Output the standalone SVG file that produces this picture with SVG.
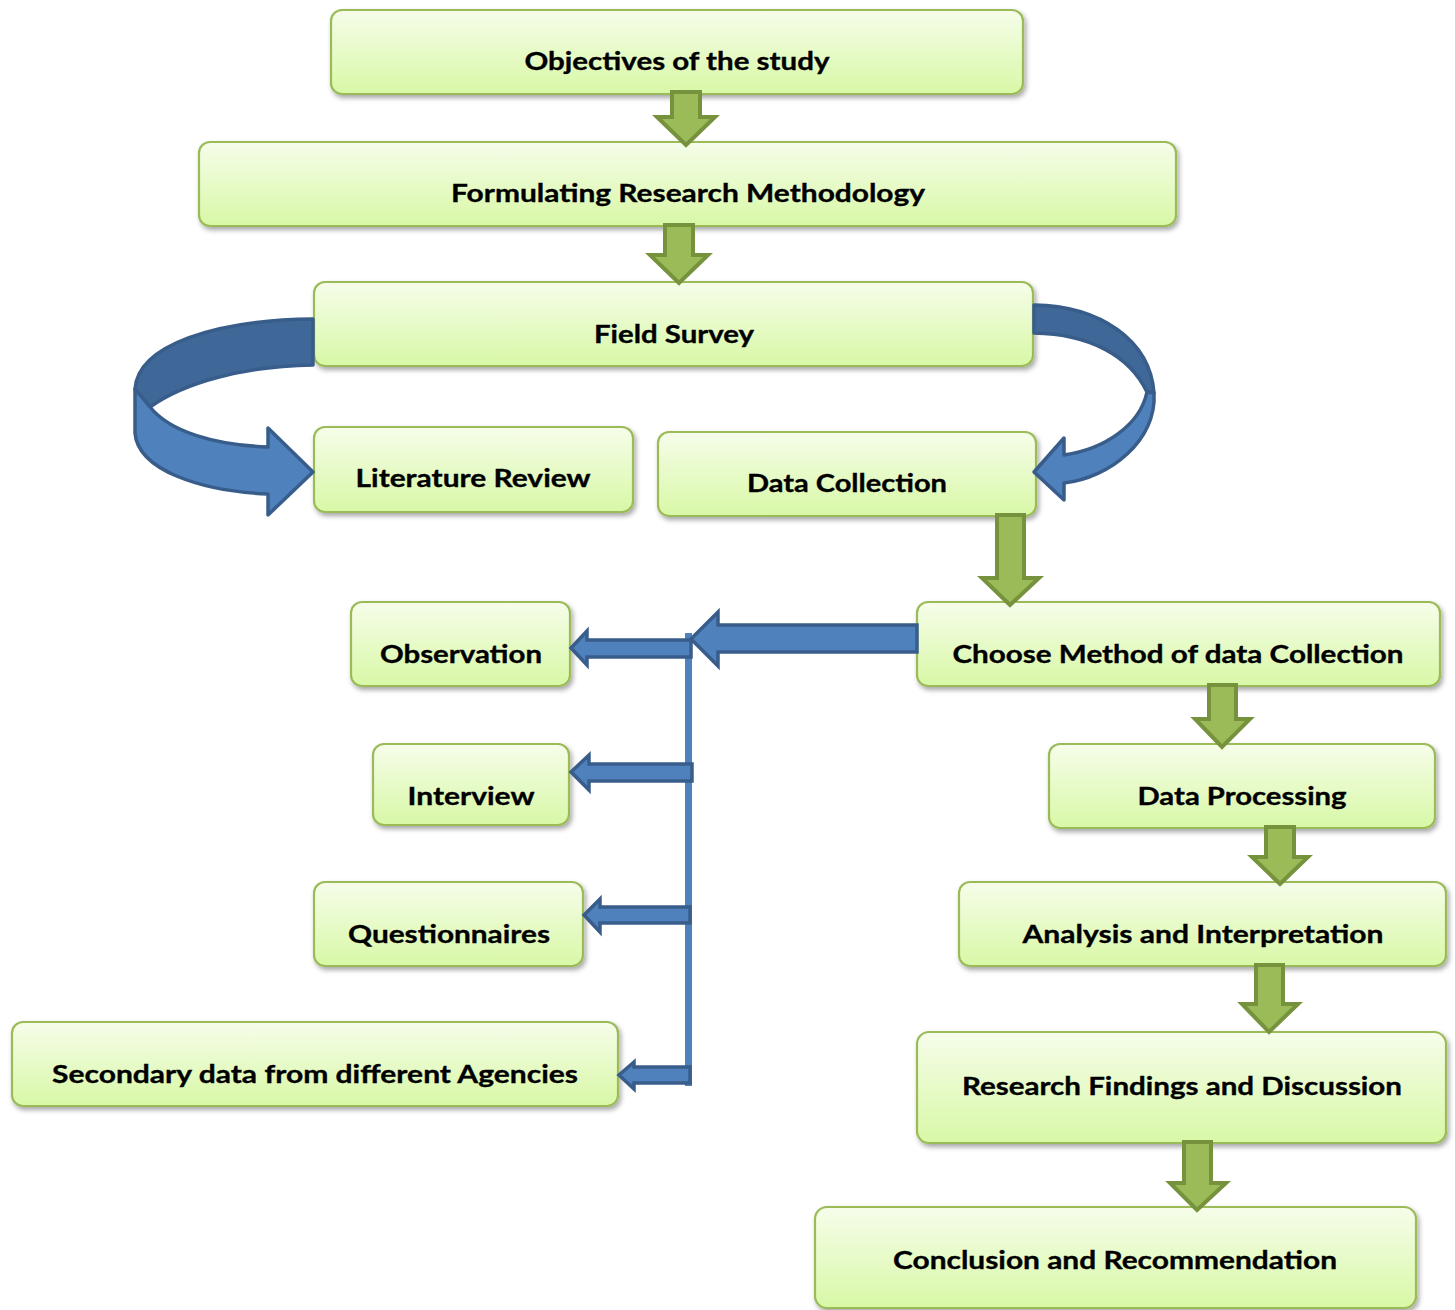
<svg xmlns="http://www.w3.org/2000/svg" width="1455" height="1310" viewBox="0 0 1455 1310">
<defs>
<linearGradient id="g" x1="0" y1="0" x2="0" y2="1">
<stop offset="0" stop-color="#f6fdea"/>
<stop offset="1" stop-color="#d8f8a6"/>
</linearGradient>
<filter id="sh" x="-5%" y="-20%" width="110%" height="150%">
<feDropShadow dx="2" dy="3" stdDeviation="2.5" flood-color="#000" flood-opacity="0.35"/>
</filter>
<style>
.box{fill:url(#g);stroke:#9bbb59;stroke-width:2.2;filter:url(#sh)}
.t{font-family:Lato,"Open Sans","Liberation Sans",sans-serif;font-weight:bold;font-size:25px;fill:#000;text-anchor:middle;stroke:#000;stroke-width:0.35}
.ga{fill:#9bbb59;stroke:#76923c;stroke-width:4;stroke-linejoin:miter}
.ba{fill:#4f81bd;stroke:#385d8a;stroke-width:3.5;stroke-linejoin:miter}
.bd{fill:#3f6898;stroke:#385d8a;stroke-width:3.5;stroke-linejoin:round}
.bl{fill:#4f81bd;stroke:#385d8a;stroke-width:3.5;stroke-linejoin:round}
</style>
</defs>
<rect width="1455" height="1310" fill="#fff"/>

<g id="n1"><rect class="box" x="331" y="10" width="692" height="84" rx="11"/><text class="t" x="677" y="70" textLength="305" lengthAdjust="spacingAndGlyphs">Objectives of the study</text></g>
<g id="n2"><rect class="box" x="199" y="142" width="977" height="84" rx="11"/><text class="t" x="688" y="202" textLength="474" lengthAdjust="spacingAndGlyphs">Formulating Research Methodology</text></g>
<g id="n3"><rect class="box" x="314" y="282" width="719" height="84" rx="11"/><text class="t" x="674" y="343" textLength="160" lengthAdjust="spacingAndGlyphs">Field Survey</text></g>
<g id="n4"><rect class="box" x="314" y="427" width="319" height="85" rx="11"/><text class="t" x="473" y="487" textLength="235" lengthAdjust="spacingAndGlyphs">Literature Review</text></g>
<g id="n5"><rect class="box" x="658" y="432" width="378" height="84" rx="11"/><text class="t" x="847" y="492" textLength="200" lengthAdjust="spacingAndGlyphs">Data Collection</text></g>
<g id="n6"><rect class="box" x="917" y="602" width="523" height="84" rx="11"/><text class="t" x="1178" y="663" textLength="451" lengthAdjust="spacingAndGlyphs">Choose Method of data Collection</text></g>
<g id="n7"><rect class="box" x="351" y="602" width="219" height="84" rx="11"/><text class="t" x="461" y="663" textLength="162" lengthAdjust="spacingAndGlyphs">Observation</text></g>
<g id="n8"><rect class="box" x="373" y="744" width="196" height="81" rx="11"/><text class="t" x="471" y="805" textLength="127" lengthAdjust="spacingAndGlyphs">Interview</text></g>
<g id="n9"><rect class="box" x="314" y="882" width="269" height="84" rx="11"/><text class="t" x="449" y="943" textLength="202" lengthAdjust="spacingAndGlyphs">Questionnaires</text></g>
<g id="n10"><rect class="box" x="12" y="1022" width="606" height="84" rx="11"/><text class="t" x="315" y="1083" textLength="526" lengthAdjust="spacingAndGlyphs">Secondary data from different Agencies</text></g>
<g id="n11"><rect class="box" x="1049" y="744" width="386" height="84" rx="11"/><text class="t" x="1242" y="805" textLength="209" lengthAdjust="spacingAndGlyphs">Data Processing</text></g>
<g id="n12"><rect class="box" x="959" y="882" width="487" height="84" rx="11"/><text class="t" x="1203" y="943" textLength="361" lengthAdjust="spacingAndGlyphs">Analysis and Interpretation</text></g>
<g id="n13"><rect class="box" x="917" y="1032" width="529" height="111" rx="12"/><text class="t" x="1182" y="1095" textLength="440" lengthAdjust="spacingAndGlyphs">Research Findings and Discussion</text></g>
<g id="n14"><rect class="box" x="815" y="1207" width="601" height="101" rx="12"/><text class="t" x="1115" y="1269" textLength="444" lengthAdjust="spacingAndGlyphs">Conclusion and Recommendation</text></g>

<g id="connectors">
<!-- green down arrows -->
<path class="ga" d="M672,92 H700 V117 H715 L686,145 L657,117 H672 Z"/>
<path class="ga" d="M665,225 H693 V255 H708 L679,283 L650,255 H665 Z"/>
<path class="ga" d="M997,515 H1024 V578 H1039 L1010,605 L982,578 H997 Z"/>
<path class="ga" d="M1209,685 H1236 V719 H1250 L1222,747 L1195,719 H1209 Z"/>
<path class="ga" d="M1266,827 H1294 V857 H1308 L1280,884 L1252,857 H1266 Z"/>
<path class="ga" d="M1256,965 H1283 V1004 H1298 L1269,1032 L1242,1004 H1256 Z"/>
<path class="ga" d="M1184,1142 H1211 V1183 H1226 L1197,1210 L1170,1183 H1184 Z"/>

<!-- curved blue arrow left -->
<path class="bd" d="M313,319 C215,320 138,345 135,389 L150,407 C185,382 245,366 313,365 Z"/>
<path class="bl" d="M135,389 L135,433 C138,470 200,491 268,494 L268,515 L313,472 L268,428 L268,447 C215,445 170,432 150,407 Z"/>

<!-- curved blue arrow right -->
<path class="bd" d="M1034,305 C1100,306 1150,340 1154,393 L1147,392 C1130,356 1090,334 1034,333 Z"/>
<path class="bl" d="M1154,393 C1157,440 1110,478 1064,483 L1064,500 L1034,472 L1064,438 L1064,455 C1105,449 1140,425 1147,392 Z"/>

<!-- blue distribution -->
<rect x="685" y="633" width="7" height="453" fill="#4f81bd"/>
<path class="ba" d="M917,625 V652 H718 V666 L691,639 L718,612 V625 Z"/>
<path class="ba" d="M691,640 V657 H587 V665 L571,648 L587,631 V640 Z"/>
<path class="ba" d="M692,764 V781 H589 V790 L571,772 L589,755 V764 Z"/>
<path class="ba" d="M690,907 V923 H600 V932 L584,915 L600,899 V907 Z"/>
<path class="ba" d="M690,1067 V1083 H634 V1089 L619,1075 L634,1062 V1067 Z"/>
</g>
</svg>
